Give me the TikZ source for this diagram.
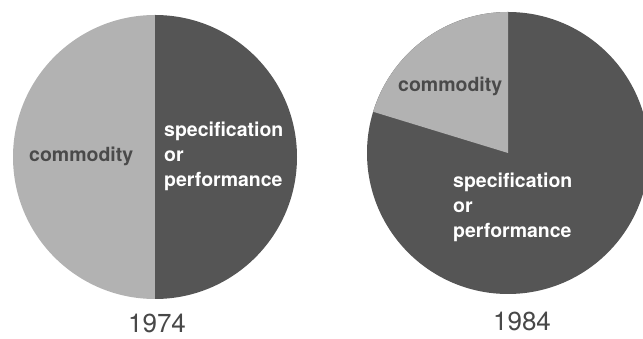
\documentclass[tikz,border=0pt]{standalone}
\usepackage{fontspec}
\setmainfont{TeX Gyre Heros}
\definecolor{lightpie}{HTML}{B2B2B2}
\definecolor{darkpie}{HTML}{555555}
\definecolor{darktext}{HTML}{4A4A4A}
\definecolor{yeartext}{HTML}{484848}
\begin{document}
\begin{tikzpicture}[x=1pt,y=1pt,
  lbl/.style={font=\bfseries\fontsize{19.5}{24}\selectfont, inner sep=0pt, anchor=base west},
  darklbl/.style={lbl, text=darktext},
  whitelbl/.style={lbl, text=white},
  yearlbl/.style={font=\fontsize{26}{30}\selectfont, text=yeartext, inner sep=0pt, anchor=base}]
\useasboundingbox (0,0) rectangle (643,339);
\clip (0,0) rectangle (643,339);
% 1974
\coordinate (cA) at (155,182);
\fill[lightpie] (cA) -- ++(90:142) arc (90:270:142) -- cycle;
\fill[darkpie] (cA) -- ++(-90:142) arc (-90:90:142) -- cycle;
\node[darklbl] (comA) at (29,177) {commodity};
\node[whitelbl] (specA) at (164,202) {specification};
\node[whitelbl] (orA) at (164,177) {or};
\node[whitelbl] (perfA) at (164,152) {performance};
\node[yearlbl] (yA) at (157,6) {1974};
% 1984
\coordinate (cB) at (508,186);
\fill[darkpie] (cB) circle (141);
\fill[lightpie] (cB) -- ++(90:141) arc (90:163:141) -- cycle;
\node[darklbl] (comB) at (398,247) {commodity};
\node[whitelbl] (specB) at (453,151) {specification};
\node[whitelbl] (orB) at (453,126) {or};
\node[whitelbl] (perfB) at (453,101) {performance};
\node[yearlbl] (yB) at (522,8) {1984};
\end{tikzpicture}
\end{document}
